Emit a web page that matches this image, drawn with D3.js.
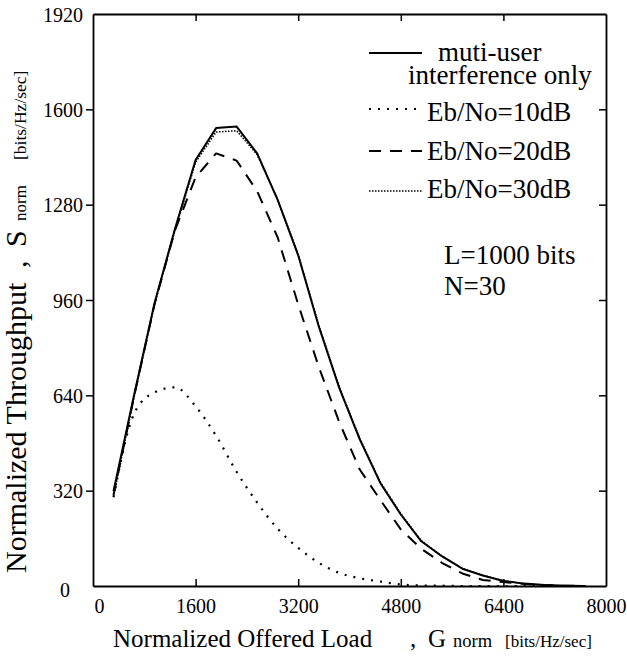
<!DOCTYPE html>
<html>
<head>
<meta charset="utf-8">
<script src="https://cdn.jsdelivr.net/npm/d3@7"></script>
</head>
<body style="margin:0">
<div id="chart"></div>
<script>
// offered load G (x values)
var load = [320, 640, 960, 1280, 1600, 1920, 2240, 2560, 2880, 3200, 3520, 3840,
            4160, 4480, 4800, 5120, 5440, 5760, 6080, 6400, 6720, 7040, 7360, 7680];

// throughput S for each curve
var muiOnly = [318, 640, 950, 1200, 1430, 1537, 1542, 1452, 1296, 1110, 872, 665,
               492, 346, 240, 150, 100, 58, 35, 17, 8, 3, 1, 0];
var eb10 = [298, 578, 650, 667, 603, 504, 383, 280, 192, 128, 78, 44,
            26, 15, 5, 2, 1, 0, 0, 0, 0, 0, 0, 0];
var eb20 = [305, 636, 946, 1195, 1372, 1452, 1428, 1325, 1170, 945, 736, 550,
            391, 289, 190, 125, 78, 42, 20, 13, 7, 3, 1, 0];
var eb30 = [300, 633, 945, 1195, 1422, 1524, 1528, 1448, 1297, 1113, 876, 669,
            496, 349, 243, 152, 101, 59, 36, 18, 8, 3, 1, 0];

var xTicks = [0, 1600, 3200, 4800, 6400, 8000];
var yTicks = [0, 320, 640, 960, 1280, 1600, 1920];

var legendNames = ["muti-user", "Eb/No=10dB", "Eb/No=20dB", "Eb/No=30dB"];
var noteLines = ["L=1000 bits", "N=30"];

const dims = { width: 627, height: 660 };
const margins = { top: 14, right: 21, bottom: 74, left: 93 };

var svg = d3.select("#chart").append("svg")
    .attr("width", dims.width)
    .attr("height", dims.height)
    .attr("font-family", "Liberation Serif");

var scaleX = d3.scaleLinear()
    .domain([0, 8000])
    .range([margins.left, dims.width - margins.right]);

var scaleY = d3.scaleLinear()
    .domain([0, 1920])
    .range([dims.height - margins.bottom, margins.top]);

var x0 = scaleX.range()[0], x1 = scaleX.range()[1];
var y0 = scaleY.range()[0], y1 = scaleY.range()[1];

// axes (frame): bottom & left labelled, top & right only ticks
var fmt = d3.format("d");
var axisB = d3.axisBottom(scaleX).tickValues(xTicks).tickFormat(fmt).tickSizeInner(-7).tickSizeOuter(0).tickPadding(13);
var axisL = d3.axisLeft(scaleY).tickValues(yTicks).tickFormat(fmt).tickSizeInner(7).tickSizeOuter(0).tickPadding(3);
var axisT = d3.axisTop(scaleX).tickValues(xTicks).tickSizeInner(-7).tickSizeOuter(0).tickFormat("");
var axisR = d3.axisRight(scaleY).tickValues(yTicks).tickSizeInner(-7).tickSizeOuter(0).tickFormat("");

var gB = svg.append("g").attr("transform", "translate(0," + y0 + ")").call(axisB);
var gL = svg.append("g").attr("transform", "translate(" + x0 + ",0)").call(axisL);
var gT = svg.append("g").attr("transform", "translate(0," + y1 + ")").call(axisT);
var gR = svg.append("g").attr("transform", "translate(" + x1 + ",0)").call(axisR);

[gB, gL, gT, gR].forEach(function (g) {
    g.attr("font-family", "Liberation Serif").attr("font-size", 20);
    g.select(".domain").attr("stroke", "#000").attr("stroke-width", 1.8);
    g.selectAll(".tick line").attr("stroke", "#000").attr("stroke-width", 1.5);
});
// corner ticks are hidden by the frame
gT.selectAll(".tick").filter(d => d === 0 || d === 8000).remove();
gR.selectAll(".tick").filter(d => d === 0 || d === 1920).remove();
gB.selectAll(".tick line").filter(d => d === 0 || d === 8000).remove();
gL.selectAll(".tick line").filter(d => d === 0 || d === 1920).remove();

gL.selectAll(".tick text").attr("dy", "0.36em");
gL.selectAll(".tick text").filter(d => d === 0).attr("dx", -13).attr("dy", "0.5em");
gB.selectAll(".tick text").filter(d => d === 0).attr("dx", 6);

// curves
function lineFor(values, curve) {
    return d3.line()
        .x((d, i) => scaleX(load[i]))
        .y(d => scaleY(d))
        .curve(curve)(values);
}

var styles = [
    { values: eb10, dash: "2,7", width: 2.2, curve: d3.curveMonotoneX },
    { values: eb20, dash: "12,9", width: 2, curve: d3.curveLinear },
    { values: muiOnly, dash: null, width: 2, curve: d3.curveLinear },
    { values: eb30, dash: "1.5,1.5", width: 1.5, curve: d3.curveLinear }
];

svg.selectAll(".curve")
    .data(styles)
    .enter()
    .append("path")
    .attr("class", "curve")
    .attr("d", d => lineFor(d.values, d.curve))
    .attr("fill", "none")
    .attr("stroke", "#000")
    .attr("stroke-width", d => d.width)
    .attr("stroke-dasharray", d => d.dash)
    .attr("stroke-linejoin", "round");

// text helper
function piece(g, x, y, size, txt) {
    return g.append("text")
        .style("font-family", "'Liberation Serif'")
        .style("font-size", size + "px")
        .attr("x", x).attr("y", y)
        .text(txt);
}

// legend
var legendStyle = [
    { dash: null, width: 2 },
    { dash: "2,7", width: 2 },
    { dash: "12,9", width: 2 },
    { dash: "1.5,1.5", width: 1.5 }
];
var legLineY = [53, 109, 151, 191];
var legTextY = [61, 121, 160, 198];
var legTextX = [438, 427, 427, 427];

var leg = svg.append("g");
legendNames.forEach(function (name, i) {
    leg.append("line")
        .attr("x1", 369).attr("x2", 422)
        .attr("y1", legLineY[i]).attr("y2", legLineY[i])
        .attr("stroke", "#000")
        .attr("stroke-width", legendStyle[i].width)
        .attr("stroke-dasharray", legendStyle[i].dash);
    piece(leg, legTextX[i], legTextY[i], 27, name);
});
piece(leg, 408, 84, 27, "interference only");
noteLines.forEach(function (t, i) {
    piece(leg, 444, 264 + i * 31, 27, t);
});

// x axis title
var xt = svg.append("g");
piece(xt, 113, 647, 25, "Normalized Offered Load");
piece(xt, 410, 647, 25, ",");
piece(xt, 428, 647, 25, "G");
piece(xt, 453, 647, 18.5, "norm");
piece(xt, 505, 647, 17, "[bits/Hz/sec]");

// y axis title (rotated)
var yt = svg.append("g").attr("transform", "rotate(-90)");
piece(yt, -573, 26, 30, "Normalized Throughput");
piece(yt, -268, 26, 30, ",");
piece(yt, -247, 26, 30, "S");
piece(yt, -221, 26, 17, "norm");
piece(yt, -160, 26, 17.5, "[bits/Hz/sec]");

gB.selectAll(".tick text").style("font-family", "'Liberation Serif'").style("font-size", "20px");
gL.selectAll(".tick text").style("font-family", "'Liberation Serif'").style("font-size", "20px");
</script>
</body>
</html>
